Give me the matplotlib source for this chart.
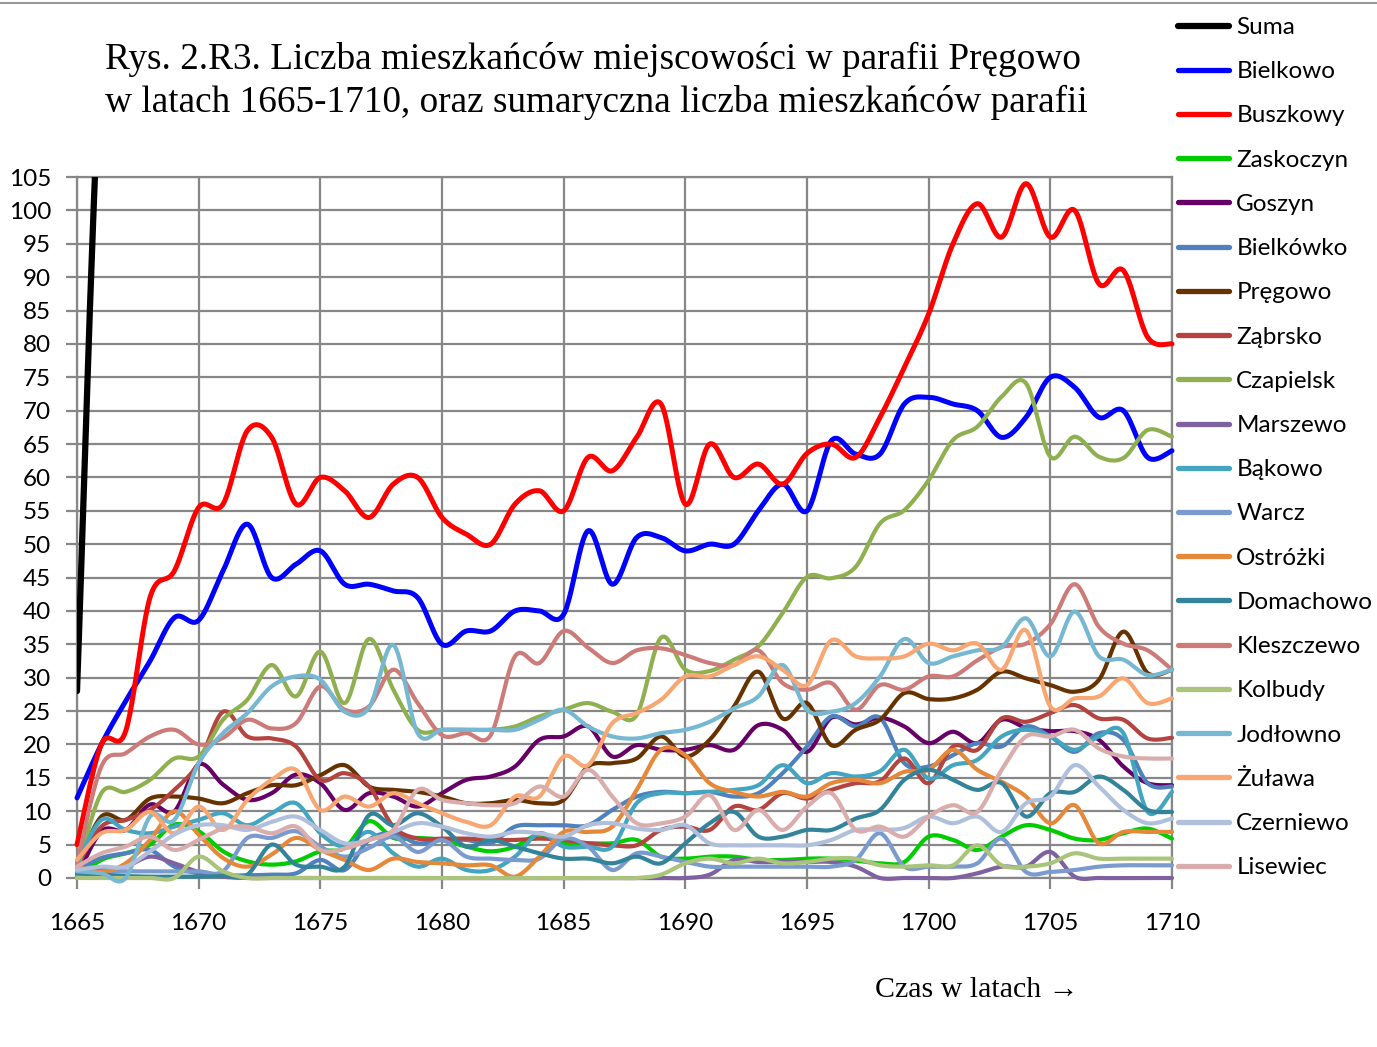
import numpy as np
import matplotlib
matplotlib.use('Agg')
import matplotlib.pyplot as plt
from matplotlib.lines import Line2D

plt.rcParams['font.family'] = ['Lato', 'DejaVu Sans']

years = list(range(1665, 1711))

suma = [28, 125, 140, 185, 200, 225, 235, 250, 265, 285, 280, 260, 275, 280, 265, 250,
        245, 240, 265, 275, 285, 300, 290, 310, 330, 325, 330, 340, 360, 355, 360, 385,
        380, 395, 410, 420, 430, 445, 450, 470, 465, 480, 455, 465, 450, 450]
bielkowo = [12, 20, 26.5, 32.5, 39, 38.6, 46, 53, 45, 47,
            49, 44, 44, 43, 42, 35, 37, 37, 40, 40,
            39.5, 52, 44, 51, 51, 49, 50, 50, 55, 59,
            55, 65.5, 63.5, 63.5, 71, 72, 71, 70, 66, 69,
            75, 73.5, 69, 70, 63, 64]
buszkowy = [5, 20, 22, 42, 46, 55.5, 56, 67, 66, 56,
            60, 58, 54, 59, 60, 54, 51.5, 50, 56, 58,
            55, 63, 61, 66, 71, 56, 65, 60, 62, 59,
            63.6, 65, 63, 69, 76.5, 84.5, 95, 101, 96, 104,
            96, 100, 89, 91, 81, 80]
zaskoczyn = [0, 2.7, 3.7, 5, 8, 7, 4, 2.5, 2, 2.5,
             4, 4.5, 8.5, 6, 6, 5.7, 4.7, 4, 4.7, 6.5,
             5.2, 5.2, 5.2, 5.7, 3.2, 2.9, 3.2, 3.2, 2.7, 2.7,
             2.9, 2.9, 2.6, 2.2, 2.4, 6.2, 5.7, 4.2, 6.2, 7.9,
             7.2, 5.9, 5.7, 6.7, 7.4, 5.9]
goszyn = [0.2, 7, 7.2, 11, 10, 17, 14, 11.7, 12.7, 15.5,
          14.2, 10.2, 12.7, 12.2, 10.7, 12.7, 14.7, 15.2, 16.7, 20.7,
          21.2, 22.7, 18.2, 19.9, 19.2, 19.2, 19.9, 19.2, 22.9, 22.2,
          18.9, 24, 23, 24, 22.7, 20.2, 21.9, 20.2, 23.7, 22.5,
          22, 22, 20.7, 16.7, 14.2, 13.9]
bielkowko = [1.2, 3, 3.7, 4.2, 1.7, 0.7, 0.4, 0.4, 0.5, 0.7,
             2.7, 1.2, 5.7, 6.7, 5.2, 5.7, 5.7, 5.2, 7.7, 7.9,
             7.9, 7.9, 10.2, 12.2, 12.9, 12.7, 12.9, 12.2, 12.7, 15.7,
             19.7, 24.2, 22.7, 24, 17.2, 16.7, 18.4, 20.2, 19.7, 22.7,
             21.2, 18.9, 21.7, 20.7, 14.2, 13.7]
pregowo = [1.7, 9.2, 8.7, 11.9, 12.2, 11.9, 11.2, 12.7, 13.9, 13.9,
           15.4, 16.9, 13.7, 13.2, 12.9, 12.2, 11.2, 11.2, 11.7, 11.2,
           11.7, 16.7, 17.2, 17.9, 21.2, 18.2, 20.7, 25.7, 30.9, 23.9,
           26.2, 19.9, 22.2, 23.7, 27.7, 26.8, 26.9, 28.2, 30.9, 29.9,
           28.9, 27.9, 29.7, 36.9, 30.7, 31.2]
zabrsko = [1.7, 7.7, 8.7, 10.2, 13.2, 17.2, 24.9, 21.2, 20.9, 19.7,
           14.7, 15.7, 13.7, 7.7, 5.9, 5.9, 5.9, 5.7, 5.7, 5.9,
           5.7, 5.2, 4.9, 4.9, 7.2, 7.7, 7.2, 10.7, 10.2, 12.7,
           11.9, 13.2, 14.2, 14.5, 17.9, 14.2, 19.7, 19.2, 23.9, 23.4,
           24.7, 25.9, 23.9, 23.7, 20.9, 21]
czapielsk = [1.2, 12.7, 12.9, 14.7, 17.9, 18.2, 23.7, 26.7, 31.9, 27.2,
             33.9, 26.2, 35.8, 28.2, 22.2, 22.2, 22.2, 22.2, 22.7, 24.2,
             25.2, 26.2, 24.9, 24.4, 36, 31.2, 31, 32.7, 34.7, 39.7,
             45.1, 44.9, 46.6, 53.1, 55.1, 59.6, 65.6, 67.6, 72.1, 74.1,
             63.1, 66.1, 63.1, 62.9, 67.1, 66.1]
marszewo = [0.2, 1.2, 1.7, 3.2, 2.2, 0.9, 0.2, 0, 0, 0,
            0, 0, 0, 0, 0, 0, 0, 0, 0, 0,
            0, 0, 0, 0, 0, 0, 0.5, 2.7, 2.4, 2.4,
            2.4, 2.4, 1.7, 0, 0, 0, 0, 0.7, 1.7, 1.7,
            3.9, 0.2, 0, 0, 0, 0]
bakowo = [2.2, 8.7, 7.2, 6.7, 7.7, 8.7, 9.7, 7.9, 9.7, 11.2,
          6.7, 4.7, 6.9, 3.7, 1.7, 2.9, 1.2, 1.2, 3.2, 6.7,
          4.7, 4.7, 4.7, 11.2, 12.7, 12.7, 12.9, 13.2, 13.9, 16.9,
          14.2, 15.7, 15.2, 16, 19.2, 14.9, 16.9, 17.7, 21.2, 22.2,
          21.2, 19.2, 21.2, 21.7, 9.9, 12.9]
warcz = [0.5, 1, 1, 1, 1, 1, 1, 6, 6, 7,
         4.7, 3.2, 4.5, 6.2, 3.9, 5.7, 3.2, 2.9, 2.7, 2.9,
         5.9, 4.7, 1.2, 3.7, 3.2, 2.4, 1.7, 1.7, 1.7, 1.7,
         1.7, 1.7, 2.7, 6.7, 1.7, 1.7, 1.7, 2.2, 5.9, 0.9,
         0.9, 1.2, 1.7, 1.9, 1.9, 1.9]
ostrozki = [1.7, 0.9, 2.2, 5.7, 10, 6.5, 3, 1.7, 3.5, 6,
            4.2, 2.7, 1.2, 2.9, 2.4, 2.2, 1.9, 1.9, 0.2, 3.2,
            6.9, 6.9, 7.7, 13.2, 19.2, 18.4, 14.2, 12.9, 12.2, 12.9,
            12.2, 14.2, 14.7, 14.2, 15.9, 16.2, 19.2, 16.2, 14.4, 12.2,
            8.2, 10.9, 5.2, 6.9, 6.9, 6.9]
domachowo = [0.7, 0.5, 0.3, 0.2, 0.2, 0.2, 0.3, 0.5, 5, 2,
             1.7, 1.7, 9.4, 7.9, 9.7, 7.7, 4.7, 5.7, 4.7, 3.7,
             2.9, 2.9, 2.2, 3.2, 2.2, 5.2, 8.2, 9.9, 6.2, 6.2,
             7.2, 7.2, 8.9, 10.2, 14.7, 16.2, 14.7, 13.2, 14.2, 9.2,
             12.7, 12.9, 15.2, 13.2, 10.2, 9.9]
kleszczewo = [2.2, 16.7, 18.7, 21.2, 22.2, 20, 21, 23.7, 22.4, 23.2,
              28.7, 25.2, 25.7, 31.2, 26.2, 21.4, 21.7, 21.4, 33.2, 32.2,
              37, 34.5, 32.2, 34.1, 34.4, 33.4, 32.2, 31.9, 34.1, 29.2,
              28.2, 29.2, 25.2, 28.9, 28.2, 30.2, 30.2, 32.6, 34.6, 35.1,
              38, 44, 37.6, 35.1, 34.1, 31.2]
kolbudy = [0, 0, 0, 0, 0, 3.2, 1, 0, 0, 0,
           0, 0, 0, 0, 0, 0, 0, 0, 0, 0,
           0, 0, 0, 0, 0.5, 2.2, 2.9, 2.2, 2.9, 2.2,
           2.4, 2.9, 2.9, 1.9, 1.7, 1.9, 1.9, 4.9, 1.9, 1.7,
           2.2, 3.7, 2.9, 2.9, 2.9, 2.9]
jodlowno = [1, 0.7, 0, 9.2, 8.7, 17.2, 21.7, 24.7, 28.7, 30.2,
            29.7, 24.9, 25.5, 34.9, 21.7, 22.2, 22.2, 22.2, 22.2, 23.7,
            25.2, 22.7, 21.2, 20.9, 21.7, 22.2, 23.4, 25.4, 27.2, 31.9,
            25.2, 24.9, 26.2, 30.2, 35.8, 32.2, 33.2, 34.1, 34.6, 38.9,
            33.2, 39.9, 33.2, 32.7, 30.4, 31.2]
zulawa = [2.7, 6.7, 7.2, 9.9, 6.7, 10.7, 7.2, 11.7, 14.7, 16.2,
          10.2, 12.2, 10.7, 12.7, 11.2, 9.7, 8.4, 7.9, 12.2, 12.2,
          18.2, 16.9, 23.2, 24.7, 26.7, 30.2, 30.2, 31.9, 33.2, 31.2,
          28.9, 35.6, 33.2, 32.9, 33.2, 35.1, 34.1, 35.1, 31.2, 37.1,
          25.7, 26.9, 27.2, 29.9, 26.2, 26.9]
czerniewo = [1.2, 1.7, 1.7, 4, 6.5, 7.9, 7.9, 7.2, 8.4, 9.2,
             7.2, 5.2, 5.7, 6.9, 8.2, 7.7, 6.7, 6.2, 6.9, 6.7,
             6.2, 7.9, 8.2, 7.4, 7.2, 7.9, 5.2, 4.9, 4.9, 4.9,
             4.9, 5.7, 7.2, 7.2, 7.5, 9.2, 8.2, 9.2, 6.9, 11.2,
             12.2, 16.9, 13.7, 10.2, 8.2, 8.9]
lisewiec = [1.7, 3.7, 4.7, 6.2, 4.2, 5.7, 7.4, 7.7, 6.7, 7.7,
            4.2, 4.4, 5.7, 7.2, 13.2, 11.7, 11.2, 10.9, 11.2, 13.7,
            12.2, 16.2, 12.2, 8.2, 8.2, 9.2, 12.4, 7.2, 10.2, 7.2,
            10.7, 12.7, 7.2, 7.7, 6.2, 9.2, 10.9, 9.9, 16.2, 21.2,
            21.2, 22.2, 19.4, 18.2, 17.9, 17.9]

names = ['Suma', 'Bielkowo', 'Buszkowy', 'Zaskoczyn', 'Goszyn', 'Bielkówko', 'Pręgowo',
         'Ząbrsko', 'Czapielsk', 'Marszewo', 'Bąkowo', 'Warcz', 'Ostróżki', 'Domachowo',
         'Kleszczewo', 'Kolbudy', 'Jodłowno', 'Żuława', 'Czerniewo', 'Lisewiec']
series = [suma, bielkowo, buszkowy, zaskoczyn, goszyn, bielkowko, pregowo, zabrsko,
          czapielsk, marszewo, bakowo, warcz, ostrozki, domachowo, kleszczewo, kolbudy,
          jodlowno, zulawa, czerniewo, lisewiec]
colors = ['#000000', '#0000ff', '#ff0000', '#00cc00', '#660066', '#4f81bd', '#663300',
          '#b4443f', '#8eb04f', '#7f60a0', '#43a5c0', '#7b9bcf', '#e6883a', '#33849a',
          '#cd7b78', '#aac47c', '#76b8d2', '#f8a772', '#b0c0dc', '#d9adac']


def smooth(x, y, n=24):
    # excel-like smoothed line (bezier through the points)
    x = np.asarray(x, float)
    y = np.asarray(y, float)
    px = np.concatenate([[x[0]], x, [x[-1]]])
    py = np.concatenate([[y[0]], y, [y[-1]]])
    t = np.linspace(0, 1, n, endpoint=False)[:, None]
    out_x, out_y = [], []
    for i in range(1, len(px) - 2):
        p0 = np.array([px[i - 1], py[i - 1]])
        p1 = np.array([px[i], py[i]])
        p2 = np.array([px[i + 1], py[i + 1]])
        p3 = np.array([px[i + 2], py[i + 2]])
        c1 = p1 + (p2 - p0) / 6
        c2 = p2 - (p3 - p1) / 6
        b = ((1 - t) ** 3) * p1 + 3 * ((1 - t) ** 2) * t * c1 + 3 * (1 - t) * t ** 2 * c2 + t ** 3 * p2
        out_x.extend(b[:, 0])
        out_y.extend(b[:, 1])
    out_x.append(x[-1])
    out_y.append(y[-1])
    return np.array(out_x), np.array(out_y)


fig = plt.figure(figsize=(13.77, 10.47), dpi=100)
ax = fig.add_axes([77 / 1377, 1 - 878 / 1047, 1095 / 1377, 701 / 1047])

for i, (name, vals, col) in enumerate(zip(names, series, colors)):
    sx, sy = smooth(years, vals)
    if name == 'Suma':
        lw = 4.5
    elif name in ('Bielkowo', 'Buszkowy'):
        lw = 3.6
    else:
        lw = 3.0
    ax.plot(sx, sy, color=col, lw=lw, label=name, solid_capstyle='round',
            clip_on=(name == 'Suma'), zorder=3 + i)

ax.set_xlim(1665, 1710)
ax.set_ylim(0, 105)
ax.set_xticks(range(1665, 1711, 5))
ax.set_yticks(range(0, 106, 5))
ax.grid(True, color='#878787', lw=1.6)
ax.set_axisbelow(True)
for side in ['top', 'right', 'left', 'bottom']:
    ax.spines[side].set_color('#878787')
    ax.spines[side].set_linewidth(1.6)
ax.tick_params(axis='both', direction='out', length=8, width=1.6, color='#878787',
               labelsize=17.5, labelcolor='black')
ax.tick_params(axis='y', pad=10.5)
ax.tick_params(axis='x', pad=17)

fig.text(105 / 1377, 1 - 59 / 1047, 'Rys. 2.R3. Liczba mieszkańców miejscowości w parafii Pręgowo',
         family='Liberation Serif', fontsize=26.8, va='center', ha='left')
fig.text(105 / 1377, 1 - 102 / 1047, 'w latach 1665-1710, oraz sumaryczna liczba mieszkańców parafii',
         family='Liberation Serif', fontsize=26.8, va='center', ha='left')
fig.text(875 / 1377, 1 - 990 / 1047, 'Czas w latach \u2192', family=['Liberation Serif', 'DejaVu Serif'],
         fontsize=21.5, va='center', ha='left')

fig.add_artist(Line2D([0, 1], [1 - 3 / 1047, 1 - 3 / 1047], color='#999999', lw=1.5))

leg = fig.legend(loc='upper left', bbox_to_anchor=(1178 / 1377, 1 - 17 / 1047), frameon=False,
                 fontsize=17.5, handlelength=2.1, handletextpad=0.3, labelspacing=0.955,
                 borderpad=0, borderaxespad=0)
for h in leg.get_lines():
    h.set_linewidth(4.5 if h.get_label() == 'Suma' else 3.8)

fig.savefig('out.png', dpi=100)
